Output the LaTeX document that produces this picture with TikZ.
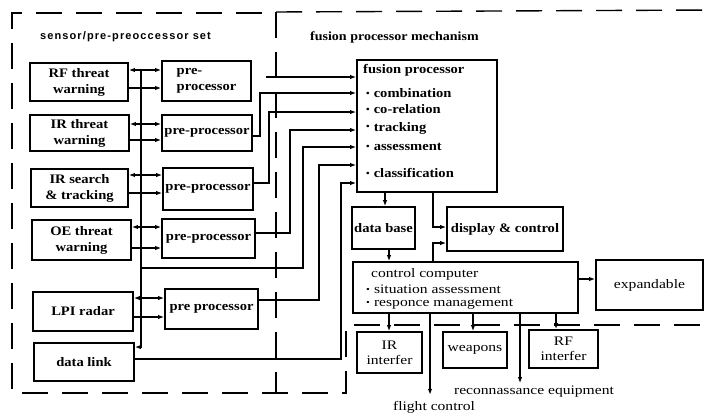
\documentclass[tikz,border=0pt]{standalone}
\usepackage{fontspec}
\setmainfont{Liberation Serif}
\newfontfamily\boldf{Liberation Serif}[FakeStretch=1.12]
\newfontfamily\regf{Liberation Serif}[FakeStretch=1.2]
\newfontfamily\titf{Liberation Sans}[LetterSpace=10]
\usetikzlibrary{arrows.meta}
\newcommand{\bul}{\raisebox{0.2ex}{\scalebox{0.7}{\textbullet}}\hspace{4pt}}
\begin{document}
\begin{tikzpicture}[x=1pt,y=-1pt,
  box/.style={draw, line width=1.8pt, inner sep=1pt, align=center,
    font=\boldf\bfseries\fontsize{13}{16}\selectfont},
  rbox/.style={box, font=\regf\fontsize{13}{15}\selectfont},
  wh/.style 2 args={minimum width=#1pt, minimum height=#2pt},
  conn/.style={line width=1.4pt},
  arr/.style={conn, -{Latex[length=6pt,width=4.5pt]}},
  dbl/.style={conn, {Latex[length=6pt,width=4.5pt]}-{Latex[length=6pt,width=4.5pt]}},
  bound/.style={line width=1.4pt, dash pattern=on 26pt off 14pt},
  btxt/.style={anchor=west, inner sep=0pt, font=\boldf\bfseries\fontsize{13}{16}\selectfont},
  rtxt/.style={inner sep=0pt, font=\regf\fontsize{13}{15}\selectfont},
  ttxt/.style={anchor=west, inner sep=0pt},
]
\fill[white] (0,0) rectangle (714,415);
\useasboundingbox (0,0) rectangle (714,415);

% boundaries
\draw[bound] (262,13) -- (12,13) -- (12,393) -- (346,393) -- (346,325) -- (714,325);
\draw[bound] (276,12) -- (276,393);
\draw[bound] (276,12) -- (714,10);

% titles
\node[ttxt, font=\titf\bfseries\fontsize{11}{13}\selectfont] (t1) at (40,37) {sensor/pre-preoccessor set};
\node[ttxt, font=\boldf\bfseries\fontsize{12.5}{15}\selectfont] (t2) at (310,37) {fusion processor mechanism};

% sensors
\node[box, wh={98}{38}] (rf)  at (79,82)    {RF threat\\warning};
\node[box, wh={99}{36}] (irt) at (79.5,133) {IR threat\\warning};
\node[box, wh={97}{38}] (irs) at (79.5,188) {IR search\\\& tracking};
\node[box, wh={99}{40}] (oe)  at (81.5,240) {OE threat\\warning};
\node[box, wh={100}{39}] (lpi) at (83,311.5) {LPI radar};
\node[box, wh={100}{38}] (dl)  at (84,362)   {data link};

% pre-processors
\node[box, wh={89}{40}, align=left] (pp1) at (206.5,81) {pre-\\processor};
\node[box, wh={90}{36}] (pp2) at (207,133)   {pre-processor};
\node[box, wh={90}{42}] (pp3) at (208,189)   {pre-processor};
\node[box, wh={93}{39}] (pp4) at (208.5,238.5) {pre-processor};
\node[box, wh={93}{40}] (pp5) at (211.5,309) {pre processor};

% fusion processor
\node[box, wh={140}{132}] (fus) at (427,126) {};
\node[btxt] (f0) at (363,70)  {fusion processor};
\node[btxt] (f1) at (366,93)  {\bul combination};
\node[btxt] (f2) at (366,109) {\bul co-relation};
\node[btxt] (f3) at (366,128) {\bul tracking};
\node[btxt] (f4) at (366,147) {\bul assessment};
\node[btxt] (f5) at (366,173) {\bul classification};

\node[box, wh={63}{42}]  (db)   at (383.5,228) {data base};
\node[box, wh={116}{44}] (disp) at (505,229)   {display \& control};

\node[box, wh={225}{51}] (cc) at (465.5,287.5) {};
\node[rtxt, anchor=west] (c0) at (371,274) {control computer};
\node[rtxt, anchor=west] (c1) at (366,289) {\bul situation assessment};
\node[rtxt, anchor=west] (c2) at (366,304) {\bul responce management};

\node[rbox, wh={107}{50}] (exp) at (649.5,285) {expandable};
\node[rbox, wh={65}{41}]  (iri) at (389.5,352.5) {IR\\interfer};
\node[rbox, wh={64}{36}]  (wp)  at (475,350)   {weapons};
\node[rbox, wh={69}{38}]  (rfi) at (563.5,349) {RF\\interfer};

\node[rtxt] (rlab) at (534,392) {reconnassance equipment};
\node[rtxt] (flab) at (434,407) {flight control};

% sensor <-> pre-processor links
\draw[dbl] (rf.east |- 0,70)   -- (pp1.west |- 0,70);
\draw[arr] (rf.east |- 0,88)   -- (pp1.west |- 0,88);
\draw[dbl] (irt.east |- 0,124) -- (pp2.west |- 0,124);
\draw[arr] (irt.east |- 0,140) -- (pp2.west |- 0,140);
\draw[dbl] (irs.east |- 0,175) -- (pp3.west |- 0,175);
\draw[arr] (irs.east |- 0,193) -- (pp3.west |- 0,193);
\draw[dbl] (oe.east |- 0,227)  -- (pp4.west |- 0,227);
\draw[arr] (oe.east |- 0,248)  -- (pp4.west |- 0,248);
\draw[dbl] (lpi.east |- 0,298) -- (pp5.west |- 0,298);
\draw[arr] (lpi.east |- 0,317) -- (pp5.west |- 0,317);

% bus
\coordinate (bustop) at (141,70);
\draw[arr] (bustop) |- (dl.east |- 0,347);
\draw[arr] (bustop |- 0,268) -- (303,268) -- (303,147) -- (fus.west |- 0,147);

% inputs to fusion processor
\draw[arr, shorten <=14pt] (pp1.east |- 0,77) -- (fus.west |- 0,77);
\draw[arr] (pp2.east |- 0,136) -- (260,136) -- (260,93)  -- (fus.west |- 0,93);
\draw[arr] (pp3.east |- 0,183) -- (269,183) -- (269,112) -- (fus.west |- 0,112);
\draw[arr] (pp4.east |- 0,233) -- (290,233) -- (290,130) -- (fus.west |- 0,130);
\draw[arr] (pp5.east |- 0,300) -- (319,300) -- (319,165) -- (fus.west |- 0,165);
\draw[arr] (dl.east |- 0,359)  -- (341,359) -- (341,183) -- (fus.west |- 0,183);

% fusion outputs
\draw[arr] (fus.south -| 385,0) -- (db.north -| 385,0);
\draw[arr] (fus.south -| 433,0) |- (disp.west |- 0,227);
\draw[arr] (db.south -| 389,0) -- (cc.north -| 389,0);
\draw[arr] (cc.north -| 433,0) |- (disp.west |- 0,243);

% control computer outputs
\draw[arr] (cc.east |- 0,279) -- (exp.west |- 0,279);
\draw[arr] (cc.south -| 389,0) -- (iri.north -| 389,0);
\draw[arr] (cc.south -| 430,0) -- ([yshift=6pt]flab.north -| 430,0);
\draw[arr] (cc.south -| 473,0) -- (wp.north -| 473,0);
\draw[arr] (cc.south -| 520,0) -- ([yshift=3pt]rlab.north -| 520,0);
\draw[arr] (cc.south -| 556,0) -- (rfi.north -| 556,0);
\end{tikzpicture}
\end{document}
